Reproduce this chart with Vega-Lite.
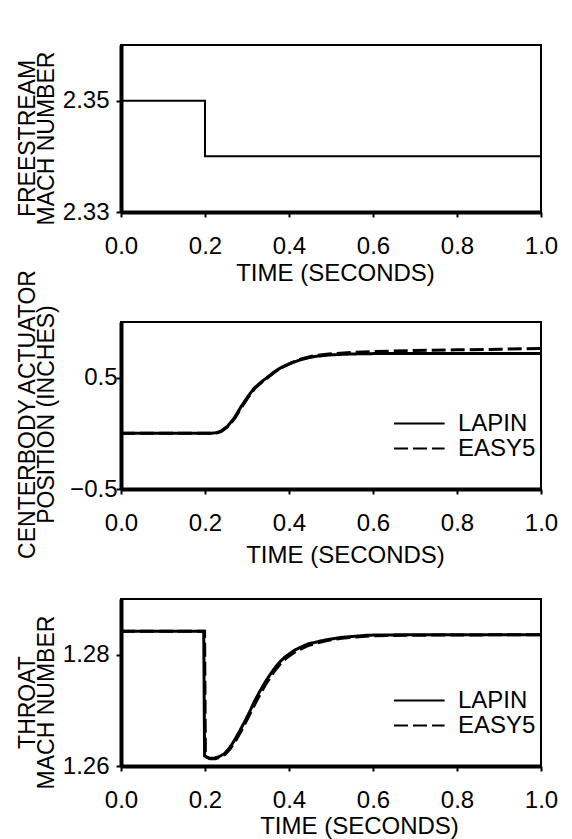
{
  "$schema": "https://vega.github.io/schema/vega-lite/v6.json",
  "padding": {"left": 14, "top": 44, "right": 5, "bottom": 0},
  "bounds": "flush",
  "spacing": 110,
  "resolve": {"scale": {"strokeDash": "independent"}, "legend": {"strokeDash": "independent"}},
  "config": {
    "font": "Liberation Sans",
    "view": {"stroke": "black", "strokeWidth": 2},
    "axis": {
      "grid": false,
      "domainColor": "black",
      "domainWidth": 4,
      "tickColor": "black",
      "tickSize": 5,
      "tickWidth": 2,
      "labelFont": "Liberation Sans",
      "labelFontSize": 24,
      "labelColor": "black",
      "titleFont": "Liberation Sans",
      "titleFontSize": 23,
      "titleFontWeight": "normal",
      "titleColor": "black"
    },
    "axisX": {"labelBaseline": "alphabetic", "labelPadding": 36, "titleBaseline": "alphabetic", "labelFlush": false},
    "axisY": {"titleBaseline": "alphabetic", "titleLineHeight": 19, "titleX": -87, "labelPadding": 7},
    "legend": {
      "labelFont": "Liberation Sans",
      "labelFontSize": 24,
      "labelColor": "black",
      "padding": 0
    }
  },
  "datasets": {
    "freestream": [
      {"t": 0.0, "mach": 2.35},
      {"t": 0.2, "mach": 2.34},
      {"t": 1.0, "mach": 2.34}
    ],
    "actuator": [
      {"series": "LAPIN", "t": 0.0, "pos": 0.0},
      {"series": "LAPIN", "t": 0.214, "pos": 0.0},
      {"series": "LAPIN", "t": 0.228, "pos": 0.006},
      {"series": "LAPIN", "t": 0.238, "pos": 0.02},
      {"series": "LAPIN", "t": 0.254, "pos": 0.065},
      {"series": "LAPIN", "t": 0.27, "pos": 0.14},
      {"series": "LAPIN", "t": 0.286, "pos": 0.24},
      {"series": "LAPIN", "t": 0.302, "pos": 0.33},
      {"series": "LAPIN", "t": 0.317, "pos": 0.405},
      {"series": "LAPIN", "t": 0.333, "pos": 0.458},
      {"series": "LAPIN", "t": 0.349, "pos": 0.505},
      {"series": "LAPIN", "t": 0.365, "pos": 0.553},
      {"series": "LAPIN", "t": 0.381, "pos": 0.59},
      {"series": "LAPIN", "t": 0.405, "pos": 0.63},
      {"series": "LAPIN", "t": 0.429, "pos": 0.663},
      {"series": "LAPIN", "t": 0.46, "pos": 0.69},
      {"series": "LAPIN", "t": 0.5, "pos": 0.705},
      {"series": "LAPIN", "t": 0.55, "pos": 0.713},
      {"series": "LAPIN", "t": 0.6, "pos": 0.716},
      {"series": "LAPIN", "t": 0.8, "pos": 0.717},
      {"series": "LAPIN", "t": 1.0, "pos": 0.717},
      {"series": "EASY5", "t": 0.0, "pos": 0.0},
      {"series": "EASY5", "t": 0.216, "pos": 0.0},
      {"series": "EASY5", "t": 0.23, "pos": 0.006},
      {"series": "EASY5", "t": 0.24, "pos": 0.02},
      {"series": "EASY5", "t": 0.256, "pos": 0.065},
      {"series": "EASY5", "t": 0.272, "pos": 0.14},
      {"series": "EASY5", "t": 0.288, "pos": 0.24},
      {"series": "EASY5", "t": 0.304, "pos": 0.33},
      {"series": "EASY5", "t": 0.319, "pos": 0.405},
      {"series": "EASY5", "t": 0.335, "pos": 0.458},
      {"series": "EASY5", "t": 0.351, "pos": 0.505},
      {"series": "EASY5", "t": 0.367, "pos": 0.553},
      {"series": "EASY5", "t": 0.383, "pos": 0.592},
      {"series": "EASY5", "t": 0.405, "pos": 0.633},
      {"series": "EASY5", "t": 0.429, "pos": 0.668},
      {"series": "EASY5", "t": 0.46, "pos": 0.697},
      {"series": "EASY5", "t": 0.5, "pos": 0.714},
      {"series": "EASY5", "t": 0.55, "pos": 0.726},
      {"series": "EASY5", "t": 0.6, "pos": 0.735},
      {"series": "EASY5", "t": 0.7, "pos": 0.744},
      {"series": "EASY5", "t": 0.8, "pos": 0.75},
      {"series": "EASY5", "t": 0.9, "pos": 0.755},
      {"series": "EASY5", "t": 1.0, "pos": 0.762}
    ],
    "throat": [
      {"series": "LAPIN", "t": 0.0, "mach": 1.2842},
      {"series": "LAPIN", "t": 0.197, "mach": 1.2842},
      {"series": "LAPIN", "t": 0.199, "mach": 1.2618},
      {"series": "LAPIN", "t": 0.21, "mach": 1.2614},
      {"series": "LAPIN", "t": 0.222, "mach": 1.2614},
      {"series": "LAPIN", "t": 0.234, "mach": 1.2617},
      {"series": "LAPIN", "t": 0.246, "mach": 1.2622},
      {"series": "LAPIN", "t": 0.258, "mach": 1.2632},
      {"series": "LAPIN", "t": 0.27, "mach": 1.2646},
      {"series": "LAPIN", "t": 0.282, "mach": 1.2662},
      {"series": "LAPIN", "t": 0.294, "mach": 1.2679},
      {"series": "LAPIN", "t": 0.306, "mach": 1.2697},
      {"series": "LAPIN", "t": 0.317, "mach": 1.2715},
      {"series": "LAPIN", "t": 0.329, "mach": 1.2732},
      {"series": "LAPIN", "t": 0.341, "mach": 1.2748},
      {"series": "LAPIN", "t": 0.353, "mach": 1.2762},
      {"series": "LAPIN", "t": 0.365, "mach": 1.2775},
      {"series": "LAPIN", "t": 0.377, "mach": 1.2786},
      {"series": "LAPIN", "t": 0.389, "mach": 1.2795},
      {"series": "LAPIN", "t": 0.413, "mach": 1.2808},
      {"series": "LAPIN", "t": 0.444, "mach": 1.2819},
      {"series": "LAPIN", "t": 0.484, "mach": 1.2826},
      {"series": "LAPIN", "t": 0.524, "mach": 1.2831},
      {"series": "LAPIN", "t": 0.587, "mach": 1.2835},
      {"series": "LAPIN", "t": 0.7, "mach": 1.2836},
      {"series": "LAPIN", "t": 1.0, "mach": 1.2836},
      {"series": "EASY5", "t": 0.0, "mach": 1.2842},
      {"series": "EASY5", "t": 0.199, "mach": 1.2842},
      {"series": "EASY5", "t": 0.201, "mach": 1.2617},
      {"series": "EASY5", "t": 0.212, "mach": 1.2613},
      {"series": "EASY5", "t": 0.224, "mach": 1.2613},
      {"series": "EASY5", "t": 0.236, "mach": 1.2616},
      {"series": "EASY5", "t": 0.248, "mach": 1.2621},
      {"series": "EASY5", "t": 0.26, "mach": 1.2631},
      {"series": "EASY5", "t": 0.272, "mach": 1.2644},
      {"series": "EASY5", "t": 0.284, "mach": 1.266},
      {"series": "EASY5", "t": 0.296, "mach": 1.2677},
      {"series": "EASY5", "t": 0.308, "mach": 1.2695},
      {"series": "EASY5", "t": 0.32, "mach": 1.2713},
      {"series": "EASY5", "t": 0.332, "mach": 1.273},
      {"series": "EASY5", "t": 0.344, "mach": 1.2746},
      {"series": "EASY5", "t": 0.356, "mach": 1.276},
      {"series": "EASY5", "t": 0.368, "mach": 1.2773},
      {"series": "EASY5", "t": 0.38, "mach": 1.2784},
      {"series": "EASY5", "t": 0.392, "mach": 1.2793},
      {"series": "EASY5", "t": 0.416, "mach": 1.2806},
      {"series": "EASY5", "t": 0.448, "mach": 1.2817},
      {"series": "EASY5", "t": 0.488, "mach": 1.2825},
      {"series": "EASY5", "t": 0.53, "mach": 1.283},
      {"series": "EASY5", "t": 0.6, "mach": 1.2834},
      {"series": "EASY5", "t": 0.7, "mach": 1.2835},
      {"series": "EASY5", "t": 1.0, "mach": 1.2836}
    ]
  },
  "vconcat": [
    {
      "width": 420,
      "height": 167,
      "data": {"name": "freestream"},
      "mark": {"type": "line", "interpolate": "step-after", "color": "black", "strokeWidth": 2},
      "encoding": {
        "x": {
          "field": "t", "type": "quantitative",
          "scale": {"domain": [0, 1], "nice": false},
          "axis": {"values": [0, 0.2, 0.4, 0.6, 0.8, 1], "format": ".1f", "title": "TIME (SECONDS)", "titleX": 214, "titleY": 68, "titleFontSize": 24}
        },
        "y": {
          "field": "mach", "type": "quantitative",
          "scale": {"domain": [2.33, 2.36], "nice": false, "zero": false},
          "axis": {"values": [2.33, 2.35], "format": ".2f", "title": ["FREESTREAM", "MACH NUMBER"], "titleY": 93}
        }
      }
    },
    {
      "width": 420,
      "height": 167,
      "data": {"name": "actuator"},
      "mark": {"type": "line", "color": "black", "strokeWidth": 3},
      "encoding": {
        "x": {
          "field": "t", "type": "quantitative",
          "scale": {"domain": [0, 1], "nice": false},
          "axis": {"values": [0, 0.2, 0.4, 0.6, 0.8, 1], "format": ".1f", "title": "TIME (SECONDS)", "titleX": 224, "titleY": 73, "titleFontSize": 24}
        },
        "y": {
          "field": "pos", "type": "quantitative",
          "scale": {"domain": [-0.5, 1.0], "nice": false, "zero": false},
          "axis": {"values": [-0.5, 0.5], "format": ".1f", "title": ["CENTERBODY ACTUATOR", "POSITION (INCHES)"], "titleY": 92, "labelPadding": -1}
        },
        "strokeDash": {
          "field": "series", "type": "nominal",
          "scale": {"domain": ["LAPIN", "EASY5"], "range": [[1, 0], [14, 5]]},
          "legend": {
            "orient": "none", "legendX": 272, "legendY": 89, "title": null,
            "symbolType": "M-1,0H3.4", "symbolSize": 529, "symbolStrokeWidth": 2, "symbolStrokeColor": "black", "symbolFillColor": "transparent",
            "labelOffset": 40, "rowPadding": -3
          }
        }
      }
    },
    {
      "width": 420,
      "height": 167,
      "data": {"name": "throat"},
      "mark": {"type": "line", "color": "black", "strokeWidth": 3},
      "encoding": {
        "x": {
          "field": "t", "type": "quantitative",
          "scale": {"domain": [0, 1], "nice": false},
          "axis": {"values": [0, 0.2, 0.4, 0.6, 0.8, 1], "format": ".1f", "title": "TIME (SECONDS)", "titleX": 238, "titleY": 67, "titleFontSize": 24}
        },
        "y": {
          "field": "mach", "type": "quantitative",
          "scale": {"domain": [1.26, 1.29], "nice": false, "zero": false},
          "axis": {"values": [1.26, 1.28], "format": ".2f", "title": ["THROAT", "MACH NUMBER"], "titleY": 103}
        },
        "strokeDash": {
          "field": "series", "type": "nominal",
          "scale": {"domain": ["LAPIN", "EASY5"], "range": [[1, 0], [14, 5]]},
          "legend": {
            "orient": "none", "legendX": 272, "legendY": 89, "title": null,
            "symbolType": "M-1,0H3.4", "symbolSize": 529, "symbolStrokeWidth": 2, "symbolStrokeColor": "black", "symbolFillColor": "transparent",
            "labelOffset": 40, "rowPadding": -3
          }
        }
      }
    }
  ]
}
